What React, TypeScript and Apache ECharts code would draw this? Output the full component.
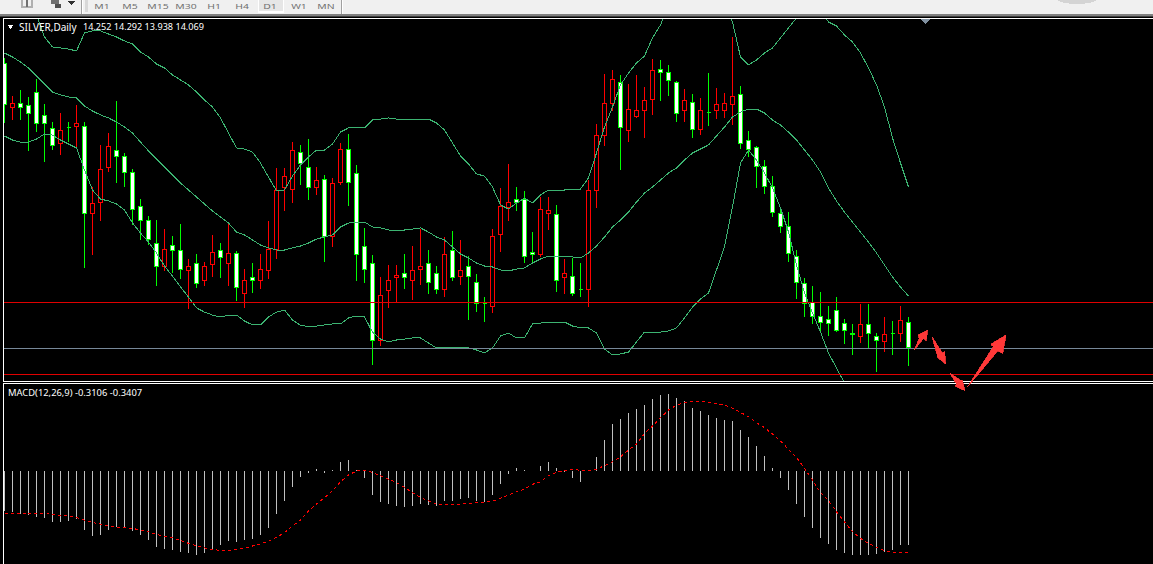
import React, { useEffect, useRef } from "react";
import * as echarts from "echarts";

const symbolTitle = "SILVER,Daily";
const ohlcLabel = "14.252 14.292 13.938 14.069";
const macdLabel = "MACD(12,26,9) -0.3106 -0.3407";
const periods = ["M1", "M5", "M15", "M30", "H1", "H4", "D1", "W1", "MN"];
const periodX = [102, 130, 158, 186, 214, 242, 270, 299, 326];

const opens = [16.149,15.824,15.853,15.839,15.934,15.766,15.671,15.558,15.675,15.686,15.686,15.047,15.134,15.383,15.514,15.470,15.353,15.098,14.996,14.835,14.660,14.820,14.777,14.631,14.689,14.558,14.675,14.784,14.689,14.755,14.470,14.580,14.565,14.631,14.791,15.237,15.229,15.494,15.383,15.237,15.302,14.886,15.280,15.521,15.339,14.806,14.682,14.120,14.485,14.580,14.616,14.565,14.645,14.682,14.609,14.499,14.784,14.587,14.667,14.550,14.390,14.368,14.894,15.091,15.156,15.156,14.769,14.748,15.054,15.040,14.580,14.594,14.499,14.499,15.222,15.623,15.857,16.010,15.660,15.755,15.799,15.886,16.105,16.083,16.010,15.799,15.864,15.667,15.791,15.799,15.806,15.843,15.916,15.580,15.529,15.397,15.244,15.054,14.952,14.740,14.543,14.404,14.295,14.280,14.339,14.244,14.178,14.149,14.237,14.149,14.113,14.171,14.171,14.252];
const highs = [16.186,15.908,15.952,15.901,16.032,15.850,15.718,15.784,15.718,15.843,15.718,15.244,15.550,15.638,15.872,15.492,15.375,15.156,15.032,15.003,14.937,14.886,14.974,14.718,14.755,14.696,14.894,14.835,14.981,14.777,14.645,14.689,14.755,14.996,15.383,15.383,15.572,15.550,15.594,15.390,15.332,15.310,15.565,15.631,15.405,14.945,14.748,14.587,14.675,14.675,14.755,14.813,14.937,14.784,14.667,14.879,14.923,14.857,14.740,14.609,14.441,14.937,15.237,15.412,15.244,15.215,14.915,15.171,15.171,15.113,14.718,14.726,14.689,15.295,15.704,16.069,16.098,16.062,15.996,16.062,15.974,16.178,16.171,16.135,16.018,15.959,15.923,15.894,16.076,15.967,15.930,16.339,15.981,15.653,15.543,15.441,15.324,15.098,15.061,14.784,14.580,14.521,14.477,14.375,14.441,14.280,14.244,14.390,14.390,14.178,14.295,14.266,14.375,14.292];
const lows = [15.711,15.733,15.733,15.507,15.645,15.426,15.514,15.477,15.572,15.529,14.653,14.748,14.996,15.353,15.273,15.244,14.967,14.857,14.820,14.521,14.631,14.616,14.572,14.353,14.507,14.521,14.587,14.580,14.521,14.412,14.361,14.470,14.499,14.572,14.718,15.069,15.127,15.259,15.149,15.186,14.696,14.806,15.259,15.105,14.558,14.543,13.944,14.083,14.361,14.397,14.499,14.419,14.529,14.463,14.463,14.441,14.558,14.529,14.273,14.331,14.258,14.324,14.769,14.996,15.069,14.689,14.682,14.733,14.930,14.477,14.463,14.448,14.441,14.368,15.091,15.543,15.799,15.368,15.572,15.748,15.602,15.770,15.872,15.908,15.718,15.718,15.602,15.623,15.689,15.740,15.748,15.696,15.521,15.463,15.237,15.193,15.025,14.908,14.696,14.426,14.295,14.244,14.178,14.156,14.185,14.098,14.018,14.105,14.069,13.893,14.039,14.018,14.113,13.938];
const closes = [15.843,15.853,15.824,15.780,15.707,15.707,15.547,15.660,15.675,15.707,15.047,15.127,15.375,15.543,15.463,15.349,15.083,14.996,14.864,14.667,14.791,14.784,14.645,14.660,14.536,14.660,14.769,14.726,14.755,14.507,14.565,14.565,14.645,14.791,15.222,15.324,15.507,15.412,15.237,15.295,14.879,15.273,15.521,15.280,14.748,14.645,14.120,14.455,14.558,14.601,14.580,14.638,14.667,14.550,14.499,14.748,14.580,14.638,14.587,14.397,14.390,14.886,15.105,15.134,15.134,14.733,14.748,15.083,15.076,14.565,14.609,14.470,14.499,15.222,15.623,15.857,16.032,15.675,15.813,15.806,15.872,16.091,16.083,16.018,15.784,15.872,15.667,15.806,15.791,15.843,15.850,15.908,15.565,15.521,15.397,15.251,15.061,14.952,14.762,14.550,14.390,14.295,14.258,14.244,14.200,14.193,14.164,14.237,14.171,14.120,14.164,14.171,14.266,14.069];

const upperBand = [16.573,16.551,16.536,16.507,16.500,16.339,16.266,16.259,16.251,16.237,16.368,16.383,16.383,16.361,16.339,16.310,16.288,16.229,16.193,16.142,16.113,16.062,16.025,15.989,15.937,15.879,15.828,15.748,15.638,15.529,15.521,15.499,15.419,15.317,15.215,15.222,15.324,15.405,15.463,15.514,15.514,15.558,15.645,15.675,15.675,15.675,15.733,15.740,15.748,15.740,15.740,15.740,15.740,15.740,15.711,15.660,15.565,15.470,15.412,15.339,15.324,15.244,15.113,15.083,15.127,15.163,15.127,15.186,15.222,15.222,15.222,15.229,15.229,15.310,15.492,15.682,15.828,15.989,16.076,16.149,16.200,16.332,16.427,16.573,16.646,16.719,16.755,16.755,16.755,16.719,16.573,16.448,16.193,16.135,16.171,16.222,16.259,16.332,16.405,16.478,16.536,16.573,16.536,16.448,16.419,16.354,16.302,16.222,16.113,15.989,15.828,15.602,15.419,15.244];
const middleBand = [16.222,16.193,16.156,16.113,16.054,15.996,15.937,15.916,15.901,15.894,15.835,15.799,15.770,15.748,15.718,15.682,15.638,15.572,15.507,15.448,15.390,15.332,15.273,15.222,15.171,15.120,15.069,15.025,14.981,14.915,14.894,14.857,14.820,14.799,14.784,14.784,14.799,14.813,14.835,14.864,14.879,14.894,14.952,14.981,14.988,14.988,14.952,14.945,14.930,14.930,14.930,14.937,14.945,14.915,14.879,14.857,14.806,14.755,14.726,14.689,14.667,14.660,14.638,14.631,14.645,14.653,14.689,14.718,14.740,14.740,14.733,14.733,14.726,14.762,14.813,14.879,14.952,15.003,15.061,15.134,15.200,15.244,15.295,15.346,15.383,15.441,15.492,15.521,15.551,15.616,15.682,15.755,15.791,15.813,15.813,15.784,15.733,15.696,15.645,15.587,15.514,15.441,15.353,15.237,15.142,15.061,14.988,14.915,14.842,14.762,14.675,14.587,14.514,14.448];
const lowerBand = [15.616,15.587,15.572,15.572,15.594,15.631,15.623,15.587,15.558,15.529,15.368,15.222,15.156,15.142,15.120,15.076,14.981,14.908,14.842,14.762,14.667,14.594,14.514,14.441,14.361,14.331,14.309,14.295,14.309,14.309,14.266,14.237,14.237,14.295,14.331,14.346,14.273,14.233,14.226,14.229,14.237,14.244,14.244,14.288,14.302,14.295,14.185,14.134,14.113,14.127,14.134,14.142,14.142,14.105,14.069,14.069,14.069,14.069,14.069,14.054,14.032,14.069,14.156,14.178,14.142,14.142,14.244,14.251,14.258,14.258,14.258,14.229,14.215,14.215,14.178,14.061,14.018,14.025,14.039,14.113,14.185,14.185,14.185,14.193,14.215,14.288,14.368,14.426,14.470,14.638,14.806,15.098,15.419,15.514,15.441,15.346,15.237,15.091,14.915,14.675,14.470,14.324,14.185,14.032,13.923,13.813,13.674,13.609,13.572,13.536,13.521,13.572,13.609,13.652];

const levelsRed = [14.396, 13.885];
const levelGray = 14.068;

const macdHist = [-0.167,-0.172,-0.181,-0.185,-0.193,-0.197,-0.214,-0.214,-0.210,-0.202,-0.248,-0.273,-0.270,-0.248,-0.237,-0.239,-0.252,-0.269,-0.290,-0.318,-0.328,-0.332,-0.340,-0.344,-0.353,-0.343,-0.328,-0.311,-0.294,-0.298,-0.290,-0.286,-0.269,-0.239,-0.181,-0.126,-0.067,-0.025,-0.008,0.008,-0.008,0.004,0.038,0.046,0.004,-0.029,-0.101,-0.130,-0.139,-0.147,-0.151,-0.147,-0.139,-0.143,-0.147,-0.126,-0.126,-0.118,-0.113,-0.126,-0.130,-0.101,-0.055,-0.013,0.013,0.004,0.002,0.021,0.038,0.013,-0.004,-0.029,-0.046,0,0.059,0.130,0.197,0.218,0.244,0.260,0.277,0.302,0.319,0.323,0.307,0.294,0.265,0.252,0.235,0.223,0.214,0.210,0.172,0.143,0.105,0.063,0.013,-0.029,-0.080,-0.139,-0.193,-0.239,-0.281,-0.307,-0.332,-0.344,-0.353,-0.353,-0.353,-0.349,-0.340,-0.332,-0.311,-0.3106];
const macdSignal = [-0.178,-0.178,-0.178,-0.178,-0.179,-0.179,-0.182,-0.186,-0.190,-0.195,-0.206,-0.216,-0.223,-0.230,-0.235,-0.237,-0.241,-0.248,-0.256,-0.267,-0.274,-0.281,-0.291,-0.304,-0.314,-0.323,-0.330,-0.333,-0.333,-0.330,-0.325,-0.315,-0.307,-0.294,-0.279,-0.259,-0.230,-0.206,-0.168,-0.139,-0.112,-0.084,-0.045,-0.017,0,0.003,-0.006,-0.020,-0.034,-0.049,-0.069,-0.091,-0.111,-0.125,-0.139,-0.140,-0.140,-0.140,-0.136,-0.132,-0.132,-0.127,-0.115,-0.101,-0.087,-0.076,-0.056,-0.045,-0.020,-0.006,0.003,0.007,0.003,0,0.008,0.022,0.038,0.060,0.088,0.113,0.158,0.189,0.224,0.256,0.276,0.287,0.293,0.293,0.287,0.284,0.277,0.263,0.246,0.228,0.203,0.182,0.155,0.126,0.091,0.057,0.011,-0.038,-0.091,-0.125,-0.171,-0.213,-0.255,-0.283,-0.304,-0.321,-0.335,-0.342,-0.342,-0.3407];

const arrowShapes: number[][][] = [
  [[914,350.3],[919.3,338.3],[918,335],[927.7,330],[926.3,340.7],[923.3,338.7]],
  [[932,336.7],[942.3,353],[944.7,351.7],[945.7,364],[937.3,357.3],[937.5,356]],
  [[950,373.3],[960,380],[962.3,380],[965,390.7],[955,386],[956.7,384.3]],
  [[967.3,387.3],[993.3,346.7],[990.7,344.3],[1006,335],[1002.7,353.3],[997.7,351]],
];

const slotCount = 144;
const slots = Array.from({ length: slotCount }, (_, i) => String(i));
const candles = opens.map((o, i) => [o, closes[i], lows[i], highs[i]]);

const UI_FONT = '"Noto Sans", sans-serif';

function buildGraphics(): any[] {
  const g: any[] = [];
  const z = 100;
  const rect = (x: number, y: number, w: number, h: number, fill: string) =>
    g.push({ type: "rect", z, silent: true, shape: { x, y, width: w, height: h }, style: { fill } });
  rect(0, 0, 1153, 14, "#f0f0f0");
  rect(0, 14, 1153, 2, "#808080");
  rect(0, 16, 1153, 1, "#404040");
  rect(0, 17, 1153, 1, "#000000");
  rect(3, 18, 1150, 1, "#ffffff");
  rect(0, 18, 3, 546, "#000000");
  rect(3, 18, 1, 546, "#ffffff");
  rect(3, 381, 1150, 1, "#ffffff");
  rect(3, 382, 1150, 1, "#000000");
  rect(3, 383, 1150, 1, "#ffffff");
  // toolbar furniture
  rect(81, 0, 1, 14, "#a0a0a0");
  rect(82, 0, 1, 14, "#ffffff");
  rect(341, 0, 1, 14, "#a0a0a0");
  rect(342, 0, 1, 14, "#ffffff");
  rect(85, 0, 3, 12, "#d8d8d8");
  rect(258, 0, 26, 13, "#ffffff");
  rect(259, 0, 24, 11, "#e6e6e6");
  rect(21, 0, 12, 8, "#b0b0b0");
  rect(23, 0, 8, 6, "#f0f0f0");
  rect(26, 0, 2, 7, "#707070");
  rect(51, 0, 8, 4, "#707070");
  rect(55, 4, 6, 4, "#505050");
  g.push({ type: "polygon", z, silent: true, shape: { points: [[68, 1], [75, 1], [71.5, 5]] }, style: { fill: "#303030" } });
  g.push({ type: "ellipse", z, silent: true, shape: { cx: 1077, cy: -1, rx: 20, ry: 5 }, style: { fill: "#c8c8c8", opacity: 0.7 } });
  periods.forEach((p, i) => {
    g.push({ type: "text", z: z + 1, silent: true, x: periodX[i], y: 2, scaleX: 1.3, style: { text: p, fill: "#707070", font: `8px ${UI_FONT}`, textAlign: "center", textVerticalAlign: "top" } });
  });
  // pane marks and labels
  g.push({ type: "polygon", z, silent: true, shape: { points: [[7, 24.5], [14, 24.5], [10.5, 29]] }, style: { fill: "#ffffff" } });
  g.push({ type: "polygon", z, silent: true, shape: { points: [[920.5, 19], [930, 19], [925.2, 24]] }, style: { fill: "#8090a0" } });
  g.push({ type: "text", z: z + 1, silent: true, x: 19, y: 26.5, style: { text: symbolTitle, fill: "#ffffff", font: `10px ${UI_FONT}`, textVerticalAlign: "middle" } });
  g.push({ type: "text", z: z + 1, silent: true, x: 83, y: 26.5, style: { text: ohlcLabel, fill: "#ffffff", font: `9.1px ${UI_FONT}`, textVerticalAlign: "middle" } });
  g.push({ type: "text", z: z + 1, silent: true, x: 8, y: 392.5, style: { text: macdLabel, fill: "#ffffff", font: `9.4px ${UI_FONT}`, textVerticalAlign: "middle" } });
  arrowShapes.forEach((points) => {
    g.push({ type: "polygon", z: z + 2, silent: true, shape: { points }, style: { fill: "#ff3838", stroke: "#ff3838", lineWidth: 0.8 } });
  });
  return g;
}

function bandSeries(name: string, data: number[]) {
  return {
    name, type: "line", data, xAxisIndex: 0, yAxisIndex: 0, z: 4, showSymbol: false, symbol: "none", silent: true,
    lineStyle: { color: "#3cb371", width: 1 }, clip: true,
  };
}

export default function App() {
  const ref = useRef<HTMLDivElement>(null);
  useEffect(() => {
    document.body.style.margin = "0";
    document.body.style.background = "#000";
    const chart = echarts.init(ref.current!, undefined, { renderer: "svg" });
    const option: any = {
      animation: false,
      backgroundColor: "#000000",
      tooltip: { show: false },
      grid: [
        { left: 0.5, top: 19, width: 1152, height: 362, containLabel: false },
        { left: 0.5, top: 384, width: 1152, height: 180, containLabel: false },
      ],
      xAxis: [
        { type: "category", gridIndex: 0, data: slots, show: false, boundaryGap: true },
        { type: "category", gridIndex: 1, data: slots, show: false, boundaryGap: true },
      ],
      yAxis: [
        { type: "value", gridIndex: 0, min: 13.8277, max: 16.4703, show: false, splitLine: { show: false } },
        { type: "value", gridIndex: 1, min: -0.3906, max: 0.3654, show: false, splitLine: { show: false } },
      ],
      series: [
        {
          name: "levels", type: "line", data: [], xAxisIndex: 0, yAxisIndex: 0, z: 1, silent: true,
          markLine: {
            silent: true, symbol: "none", animation: false, label: { show: false },
            data: [
              ...levelsRed.map((yAxis) => ({ yAxis, lineStyle: { color: "#e00000", width: 1, type: "solid" } })),
              { yAxis: levelGray, lineStyle: { color: "#778899", width: 1, type: "solid" } },
            ],
          },
        },
        {
          name: "SILVER", type: "candlestick", data: candles, xAxisIndex: 0, yAxisIndex: 0, z: 2, barWidth: 4, silent: true, clip: true,
          itemStyle: { color: "#000000", color0: "#ffffff", borderColor: "#ff0000", borderColor0: "#00ff00", borderColorDoji: "#00ff00", borderWidth: 1 },
        },
        bandSeries("BB upper", upperBand),
        bandSeries("BB middle", middleBand),
        bandSeries("BB lower", lowerBand),
        {
          name: "MACD", type: "bar", data: macdHist, xAxisIndex: 1, yAxisIndex: 1, barWidth: 1, silent: true, z: 2,
          itemStyle: { color: "#c0c0c0" },
        },
        {
          name: "Signal", type: "line", data: macdSignal, xAxisIndex: 1, yAxisIndex: 1, symbol: "none", showSymbol: false, silent: true, z: 3,
          lineStyle: { color: "#ff0000", width: 1, type: [3, 3] },
        },
      ],
      graphic: buildGraphics(),
    };
    chart.setOption(option);
    return () => chart.dispose();
  }, []);
  return (
    <>
      <style>{`svg path { shape-rendering: crispEdges; }`}</style>
      <div ref={ref} style={{ width: 1153, height: 564 }} />
    </>
  );
}
